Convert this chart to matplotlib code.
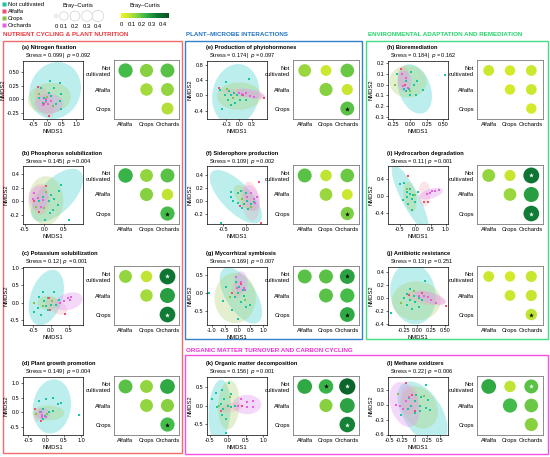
import numpy as np
import matplotlib
matplotlib.use("Agg")
import matplotlib.pyplot as plt
from matplotlib.patches import Rectangle
from matplotlib.colors import LinearSegmentedColormap, Normalize
from matplotlib.cm import ScalarMappable
from matplotlib.lines import Line2D

plt.rcParams['font.family'] = ['Liberation Sans', 'DejaVu Sans']
plt.rcParams['axes.unicode_minus'] = False

# ---------------- data ----------------
groups = ["Not cultivated", "Alfalfa", "Crops", "Orchards"]
row_labels = ["Not\ncultivated", "Alfalfa", "Crops"]
col_labels = ["Alfalfa", "Crops", "Orchards"]
pair_row = [0, 0, 0, 1, 1, 2]
pair_col = [0, 1, 2, 1, 2, 2]

panel_ids = list("abcdefghijkl")
panel_names = ["Nitrogen fixation", "Phosphorus solubilization", "Potassium solubilization",
               "Plant growth promotion", "Production of phytohormones", "Siderophore production",
               "Mycorrhizal symbiosis", "Bioremediation", "Hydrocarbon degradation",
               "Antibiotic resistance", "Organic matter decomposition", "Methane oxidizers"]
stress = ["0.099", "0.145", "0.12", "0.149", "0.174", "0.109", "0.169", "0.184", "0.11",
          "0.13", "0.156", "0.22"]
p_values = ["0.092", "0.004", "0.001", "0.004", "0.097", "0.002", "0.007", "0.162", "0.001",
            "0.251", "0.001", "0.006"]

# Bray-Curtis pairwise: NC-Alf, NC-Crops, NC-Orch, Alf-Crops, Alf-Orch, Crops-Orch
bray_curtis = [
    [0.22, 0.15, 0.20, 0.12, 0.14, 0.10],
    [0.24, 0.14, 0.20, 0.15, 0.08, 0.22],
    [0.14, 0.08, 0.36, 0.12, 0.28, 0.34],
    [0.20, 0.14, 0.26, 0.14, 0.15, 0.22],
    [0.13, 0.06, 0.18, 0.15, 0.07, 0.20],
    [0.20, 0.08, 0.18, 0.13, 0.06, 0.16],
    [0.20, 0.20, 0.27, 0.20, 0.22, 0.26],
    [0.06, 0.05, 0.06, 0.05, 0.06, 0.05],
    [0.14, 0.07, 0.36, 0.13, 0.28, 0.34],
    [0.06, 0.05, 0.07, 0.06, 0.07, 0.08],
    [0.26, 0.24, 0.40, 0.15, 0.27, 0.33],
    [0.26, 0.08, 0.20, 0.22, 0.18, 0.15],
]
# significance mark per pair: '.' none, 'k' black star, 'w' white star
signif = ["......", ".....k", "..w..w", ".....k", ".....k", ".....k",
          "..k..k", "......", "..w..w", ".....k", ".kw..w", "..w..."]

x_ticks = [[-0.5, 0, 0.5, 1.0], [-0.5, 0, 0.5], [-0.5, 0, 0.5], [-0.5, 0, 0.5, 1.0],
           [-0.3, 0, 0.3], [-0.5, 0.0], [-1, -0.5, 0, 0.5, 1], [-0.25, 0, 0.25, 0.5],
           [-0.5, 0, 0.5, 1.0], [-0.25, 0, 0.25, 0.5], [-0.5, 0, 0.5, 1.0],
           [-0.5, -0.25, 0, 0.25, 0.5]]
y_ticks = [[-0.25, 0, 0.25, 0.5], [-0.2, 0, 0.2, 0.4], [-0.5, 0, 0.5, 1.0], [-0.5, 0, 0.5, 1.0],
           [-0.4, 0, 0.4, 0.8], [-0.2, 0, 0.2, 0.4], [-0.5, 0, 0.5],
           [-0.3, -0.2, -0.1, 0, 0.1, 0.2], [-0.4, 0, 0.4], [-0.4, -0.2, 0, 0.2, 0.4],
           [-0.5, 0, 0.5], [-0.6, -0.3, 0, 0.3]]
l_xtick_labels = ["-0.5", "-0.25", "0", "0.25", "0.5"]
x_lims = [(-0.85, 1.24), (-0.55, 1.0), (-0.78, 0.89), (-0.65, 1.05), (-0.75, 0.65),
          (-0.85, 0.46), (-1.18, 1.14), (-0.33, 0.57), (-0.89, 1.07), (-0.53, 0.55),
          (-0.58, 1.1), (-0.53, 0.67)]
y_lims = [(-0.36, 0.70), (-0.335, 0.52), (-0.64, 1.03), (-0.76, 1.19), (-0.62, 0.9),
          (-0.35, 0.54), (-0.89, 0.72), (-0.32, 0.22), (-0.67, 0.72), (-0.41, 0.48),
          (-0.79, 0.77), (-0.61, 0.55)]

nc_pts = [
    [(0.10, 0.33), (0.45, 0.30), (0.24, 0.20), (-0.22, 0.20), (-0.28, 0.03), (-0.11, 0.03), (0.48, 0.10),
     (0.45, -0.03), (0.48, -0.18), (0.13, 0.06), (-0.16, -0.06), (0.30, -0.09), (0.07, 0.12), (-0.05, -0.03)],
    [(0.43, 0.245), (0.39, 0.145), (0.17, 0.095), (0.13, 0.0), (0.26, 0.035), (0.35, -0.055), (0.22, -0.13),
     (0.15, -0.18), (0.02, -0.28), (0.64, -0.28), (-0.04, 0.07), (-0.13, 0.0)],
    [(-0.23, 0.32), (0.09, 0.32), (-0.33, 0.17), (-0.09, 0.13), (-0.2, 0.04), (0.0, -0.06), (0.14, -0.06),
     (-0.37, -0.16), (-0.09, -0.21), (-0.46, -0.26), (-0.28, -0.35), (-0.14, -0.1), (0.23, 0.07)],
    [(-0.19, 0.39), (0.0, 0.44), (0.19, 0.49), (0.43, 0.33), (-0.09, 0.12), (-0.13, 0.0), (0.09, 0.0),
     (0.21, 0.05), (-0.03, -0.12), (-0.08, -0.22), (0.93, -0.1), (0.33, 0.28)],
    [(-0.30, 0.36), (0.24, 0.44), (-0.45, 0.14), (-0.23, 0.11), (-0.11, 0.06), (-0.33, 0.02), (-0.2, 0.0),
     (-0.05, 0.0), (0.03, -0.11), (-0.25, -0.11), (-0.1, -0.2), (0.17, -0.11), (-0.41, -0.37),
     (-0.2, -0.26), (0.06, 0.0)],
    [(-0.32, 0.14), (-0.32, 0.07), (-0.11, 0.16), (-0.18, 0.12), (-0.28, 0.0), (-0.18, -0.03), (-0.04, -0.05),
     (0.03, 0.0), (0.1, -0.05), (0.17, -0.01), (0.05, -0.12), (-0.09, -0.1), (-0.54, -0.33), (0.0, 0.13)],
    [(-1.09, -0.01), (-0.43, 0.17), (-0.05, 0.31), (0.06, 0.17), (0.0, 0.0), (0.2, 0.07), (0.25, -0.09),
     (0.13, -0.25), (-0.2, -0.48), (-0.56, -0.22), (0.32, -0.38), (0.48, -0.33), (0.01, -0.71), (-0.1, -0.12)],
    [(-0.19, 0.1), (0.01, 0.12), (0.1, 0.03), (-0.06, 0.03), (0.06, 0.0), (-0.01, -0.04), (-0.09, -0.04),
     (0.2, -0.05), (0.09, -0.1), (0.0, -0.1), (-0.06, -0.06), (0.52, 0.09)],
    [(-0.5, 0.28), (-0.36, 0.32), (-0.28, 0.1), (-0.17, 0.06), (-0.06, 0.02), (-0.28, -0.02), (-0.12, -0.06),
     (-0.39, -0.1), (-0.01, -0.14), (-0.23, -0.18), (-0.12, -0.34), (0.1, 0.1), (-0.17, 0.18)],
    [(0.14, 0.26), (-0.13, 0.14), (-0.19, 0.06), (-0.07, 0.03), (0.02, 0.0), (-0.13, -0.03), (-0.04, -0.06),
     (-0.19, -0.1), (0.02, -0.14), (-0.1, -0.17), (-0.48, -0.22), (0.08, -0.03), (-0.25, 0.0)],
    [(-0.45, 0.17), (-0.33, 0.35), (-0.17, 0.43), (0.04, 0.6), (0.1, 0.3), (-0.1, 0.17), (-0.2, 0.05),
     (0.0, 0.0), (-0.3, -0.05), (-0.13, -0.1), (0.1, -0.05), (-0.17, -0.25), (-0.04, -0.35),
     (-0.05, -0.73), (0.2, 0.0)],
    [(0.23, 0.39), (0.03, 0.2), (0.13, 0.15), (0.0, 0.08), (0.26, 0.09), (-0.07, -0.03), (0.1, -0.03),
     (0.22, -0.06), (0.3, -0.1), (-0.13, -0.08), (0.1, -0.13), (0.0, -0.16), (-0.27, -0.2), (-0.11, 0.13)],
]
alf_pts = [
    [(-0.34, 0.22), (0.07, -0.31), (-0.11, -0.09)],
    [(0.04, 0.23), (-0.13, -0.16), (-0.26, 0.0)],
    [(-0.05, 0.13), (0.4, -0.31), (-0.02, -0.2)],
    [(-0.3, 0.11), (-0.13, -0.3)],
    [(-0.46, 0.19), (0.59, -0.06), (0.1, 0.0)],
    [(0.28, 0.3), (0.32, -0.33), (-0.14, -0.08)],
    [(-0.23, -0.01), (0.12, 0.24)],
    [(-0.14, 0.15), (-0.07, 0.0)],
    [(-0.23, 0.48), (0.27, -0.14), (0.43, -0.14)],
    [(-0.16, 0.05), (0.52, -0.12), (0.08, 0.08)],
    [(-0.2, -0.15), (0.41, 0.0)],
    [(-0.18, 0.43), (0.0, -0.13), (-0.05, 0.2)],
]
crop_pts = [
    [(0.2, -0.12), (-0.3, 0.1), (0.0, 0.05)],
    [(0.04, 0.14), (-0.21, -0.08), (0.0, -0.1)],
    [(-0.23, -0.1), (0.04, 0.04), (-0.46, 0.0)],
    [(0.02, -0.07), (-0.28, -0.07)],
    [(-0.14, -0.06), (-0.28, 0.17)],
    [(-0.09, 0.03), (0.1, -0.09)],
    [(-0.3, -0.12), (0.3, -0.2)],
    [(-0.23, 0.0), (0.0, -0.06)],
    [(-0.01, 0.02), (-0.28, 0.18)],
    [(-0.07, 0.11), (-0.3, -0.08)],
    [(0.05, 0.22), (-0.25, 0.0)],
    [(-0.33, 0.22), (0.19, 0.17)],
]
orch_pts = [
    [(-0.05, -0.05), (0.02, -0.08), (0.13, -0.04), (-0.05, 0.0), (-0.15, -0.1)],
    [(-0.17, 0.045), (-0.26, 0.12), (-0.09, -0.08), (-0.3, 0.03), (-0.04, 0.02)],
    [(0.46, 0.13), (0.52, 0.08), (0.36, 0.04), (0.56, 0.18), (0.24, -0.02)],
    [(-0.17, 0.0), (-0.1, -0.1), (0.0, -0.15), (-0.12, -0.16)],
    [(0.0, 0.05), (0.07, 0.04), (0.16, 0.05), (0.25, -0.02), (0.35, -0.05)],
    [(0.1, 0.12), (0.17, 0.04), (0.24, 0.06), (0.2, -0.03), (0.03, 0.06)],
    [(-0.05, 0.44), (0.12, 0.3), (0.25, 0.15), (-0.01, 0.15), (0.3, 0.07)],
    [(-0.12, 0.1), (-0.06, 0.06), (-0.1, -0.01), (-0.03, -0.03)],
    [(0.49, 0.08), (0.65, 0.13), (0.76, 0.15), (0.38, 0.06), (0.54, 0.13)],
    [(0.11, 0.04), (0.19, 0.02), (0.25, -0.02), (0.33, -0.08), (0.02, 0.04)],
    [(0.38, 0.17), (0.55, 0.1), (0.7, 0.13), (0.55, -0.05), (0.7, -0.05), (0.3, 0.0)],
    [(-0.3, -0.03), (-0.23, -0.08), (-0.37, 0.0), (-0.17, 0.08), (-0.12, 0.15)],
]

# confidence ellipses: (cx, cy, x half-extent, y half-extent, correlation)
nc_ell = [(0.27, 0.16, 0.9, 0.52, 0.1), (0.33, 0.09, 0.67, 0.39, 0.6), (-0.13, 0.15, 0.49, 0.8, 0.35),
          (0.17, 0.2, 0.54, 0.91, 0.1), (-0.08, 0.02, 0.55, 0.8, 0.1), (-0.22, 0.07, 0.57, 0.41, -0.7),
          (0.13, -0.07, 0.82, 0.78, -0.6), (0.07, -0.04, 0.26, 0.23, -0.3), (-0.17, -0.04, 0.6, 0.78, -0.85),
          (-0.08, 0.07, 0.41, 0.47, -0.1), (-0.23, -0.15, 0.31, 0.85, 0.15), (0.16, -0.17, 0.5, 0.63, -0.5)]
crop_ell = [(0.07, 0.02, 0.75, 0.28, 0.1), (0.04, 0.01, 0.45, 0.36, 0.0), (-0.08, 0.0, 0.3, 0.2, 0.0),
            (0.07, -0.02, 0.45, 0.25, 0.0), (0.0, -0.02, 0.52, 0.36, 0.0), (-0.02, 0.05, 0.25, 0.2, -0.6),
            (-0.09, -0.14, 0.8, 0.7, 0.0), (-0.03, 0.03, 0.28, 0.15, 0.0), (-0.17, -0.02, 0.22, 0.36, -0.3),
            (-0.02, -0.04, 0.44, 0.3, 0.0), (0.03, 0.02, 0.3, 0.66, 0.1), (0.1, -0.06, 0.37, 0.42, -0.2)]
alf_ell = [(-0.1, -0.05, 0.35, 0.28, -0.5), (-0.1, 0.03, 0.23, 0.23, 0.0), (0.15, -0.1, 0.3, 0.25, -0.5),
           (-0.2, -0.08, 0.15, 0.23, 0.4), (0.1, 0.05, 0.5, 0.12, -0.6), (0.1, 0.0, 0.2, 0.3, -0.2),
           (0.0, 0.1, 0.2, 0.25, 0.0), (-0.1, 0.07, 0.08, 0.1, 0.0), (0.3, 0.05, 0.2, 0.3, 0.0),
           (0.15, 0.0, 0.36, 0.11, -0.5), (0.1, -0.05, 0.3, 0.13, 0.3), (-0.1, 0.1, 0.18, 0.3, 0.0)]
orch_ell = [(0.05, -0.08, 0.5, 0.18, 0.0), (-0.15, 0.05, 0.25, 0.18, 0.0), (0.5, 0.04, 0.38, 0.26, 0.3),
            (-0.08, -0.05, 0.18, 0.2, 0.0), (0.27, 0.04, 0.33, 0.14, -0.5), (0.12, 0.05, 0.18, 0.2, -0.3),
            (0.14, 0.3, 0.25, 0.3, 0.0), (-0.08, 0.03, 0.1, 0.1, 0.0), (0.52, 0.06, 0.38, 0.14, 0.5),
            (0.23, 0.01, 0.28, 0.11, -0.6), (0.54, 0.03, 0.4, 0.26, 0.0), (-0.2, 0.0, 0.3, 0.45, -0.3)]

section_titles = ["NUTRIENT CYCLING & PLANT NUTRITION", "PLANT\u2013MICROBE INTERACTIONS",
                  "ENVIRONMENTAL ADAPTATION AND REMEDIATION", "ORGANIC MATTER TURNOVER AND CARBON CYCLING"]
legend_values = [0, 0.1, 0.2, 0.3, 0.4]

# ---------------- styles ----------------
point_colors = ["#17c7a3", "#f2506e", "#86c247", "#e461e0"]
fill_colors = ["#4fd3d3", "#f39aa8", "#a8cf6a", "#e39af0"]
fill_alpha = [0.38, 0.25, 0.32, 0.38]
section_colors = ["#ee3338", "#1f72c4", "#22d66a", "#f52bd8"]
box_colors = ["#f26a6a", "#3382c8", "#3fe084", "#fb4fe4"]
cmap = LinearSegmentedColormap.from_list(
    "bc", ["#f2f51e", "#a8dc3c", "#3cb84a", "#0e7a34", "#0a4f22"])
norm = Normalize(0, 0.46)


def bubble_size(v):
    return 125 * np.sqrt(np.asarray(v) / 0.4) + 12


def ellipse_xy(cx, cy, rx, ry, rho):
    t = np.linspace(0, 2 * np.pi, 120)
    return cx + rx * np.cos(t), cy + ry * (rho * np.cos(t) + np.sqrt(1 - rho ** 2) * np.sin(t))


W, H = 550, 457
fig = plt.figure(figsize=(W / 100, H / 100), dpi=100)


def px_axes(x0, y0, x1, y1):
    return fig.add_axes([x0 / W, 1 - y1 / H, (x1 - x0) / W, (y1 - y0) / H])


bg = fig.add_axes([0, 0, 1, 1])
bg.set_xlim(0, W)
bg.set_ylim(H, 0)
bg.axis("off")

# section frames
boxes = [(3, 41, 182, 453), (185, 41, 362, 339), (366, 41, 548, 339), (185, 355, 548, 454)]
title_pos = [(3, 35), (186, 35), (368, 35), (186, 350)]
for (x0, y0, x1, y1), (tx, ty), t, c, bc in zip(boxes, title_pos, section_titles,
                                                 section_colors, box_colors):
    bg.add_patch(Rectangle((x0, y0), x1 - x0, y1 - y0, fill=False, ec=bc, lw=1.0))
    bg.text(tx, ty, t, color=c, fontsize=4.5, fontweight="bold", va="center", ha="left")

# panel layout (col, row)
panel_grid = [(0, 0), (0, 1), (0, 2), (0, 3), (1, 0), (1, 1), (1, 2), (2, 0), (2, 1), (2, 2),
              (1, 3), (2, 3)]
sc_left = [23, 207, 388]
bb_left = [114, 293, 477]
bb_right = [179, 359, 543]
row_top = [48, 153, 254, 364]

all_pts = [nc_pts, alf_pts, crop_pts, orch_pts]
all_ell = [nc_ell, alf_ell, crop_ell, orch_ell]

for k in range(12):
    c, r = panel_grid[k]
    T = row_top[r]
    bg.text(sc_left[c] - 1, T, f"({panel_ids[k]}) {panel_names[k]}", fontsize=4.1,
            fontweight="bold", va="center", ha="left")
    bg.text(sc_left[c] + 2, T + 8, f"Stress = {stress[k]} | $\\it{{p}}$ = {p_values[k]}",
            fontsize=4.1, va="center", ha="left")

    ax = px_axes(sc_left[c], T + 13, sc_left[c] + 60, T + 71)
    for g in [0, 2, 1, 3]:
        ex, ey = ellipse_xy(*all_ell[g][k])
        ax.fill(ex, ey, fc=fill_colors[g], ec="none", alpha=fill_alpha[g], zorder=1)
    for g in [0, 2, 1, 3]:
        pts = np.array(all_pts[g][k])
        ax.scatter(pts[:, 0], pts[:, 1], s=3.5, marker="s", c=point_colors[g], lw=0, zorder=3)
    ax.set_xlim(*x_lims[k])
    ax.set_ylim(*y_lims[k])
    ax.set_xticks(x_ticks[k])
    if panel_ids[k] == "l":
        ax.set_xticklabels(l_xtick_labels)
    ax.set_yticks(y_ticks[k])
    ax.tick_params(labelsize=4, length=1.5, width=0.4, pad=1)
    for s in ax.spines.values():
        s.set_linewidth(0.5)
    ax.set_xlabel("NMDS1", fontsize=4.2, labelpad=1)
    ax.set_ylabel("NMDS2", fontsize=4.2, labelpad=1)

    bx = px_axes(bb_left[c], T + 12, bb_right[c], T + 71)
    vals = np.array(bray_curtis[k])
    bx.scatter(np.array(pair_col) + 1, np.array(pair_row) + 1, s=bubble_size(vals),
               c=cmap(norm(vals)), lw=0, zorder=2)
    for j, m in enumerate(signif[k]):
        if m in "kw":
            bx.scatter(pair_col[j] + 1, pair_row[j] + 1, s=13, marker="*",
                       c="black" if m == "k" else "white", lw=0, zorder=3)
    bx.set_xlim(0.45, 3.55)
    bx.set_ylim(3.55, 0.45)
    bx.set_xticks([1, 2, 3])
    bx.set_xticklabels(col_labels)
    bx.set_yticks([1, 2, 3])
    bx.set_yticklabels(row_labels)
    bx.tick_params(labelsize=4.2, length=0, pad=2)
    for s in bx.spines.values():
        s.set_linewidth(0.6)
        s.set_color("#7a7a7a")

# group legend
handles = [Line2D([], [], ls="none", marker="s", ms=2.2, mfc=col, mec="none") for col in point_colors]
fig.legend(handles, groups, loc="upper left", bbox_to_anchor=(0.0, 1.0), fontsize=4.2,
           frameon=False, handlelength=0.6, handletextpad=0.4, labelspacing=0.35,
           borderaxespad=0.2, borderpad=0.1)

# Bray-Curtis size legend
bg.text(78, 6, "Bray\u2013Curtis", fontsize=4.2, ha="center", va="center")
leg_x = [56, 64, 75, 87, 98]
bg.scatter(leg_x, [16] * 5, s=bubble_size(legend_values) * 0.5, fc="white", ec="#d0d0d0", lw=0.5)
for x, v in zip(leg_x, legend_values):
    bg.text(x, 26, f"{v:g}", fontsize=4.2, ha="center", va="center")

# colour bar
cax = px_axes(121, 13, 169, 18)
cb = fig.colorbar(ScalarMappable(norm=norm, cmap=cmap), cax=cax, orientation="horizontal",
                  ticks=legend_values)
cb.ax.set_xticklabels([f"{v:g}" for v in legend_values])
cb.ax.tick_params(labelsize=4.2, length=0, pad=3)
cb.outline.set_visible(False)
bg.text(145, 6, "Bray\u2013Curtis", fontsize=4.2, ha="center", va="center")

fig.savefig("out.png", dpi=100)
